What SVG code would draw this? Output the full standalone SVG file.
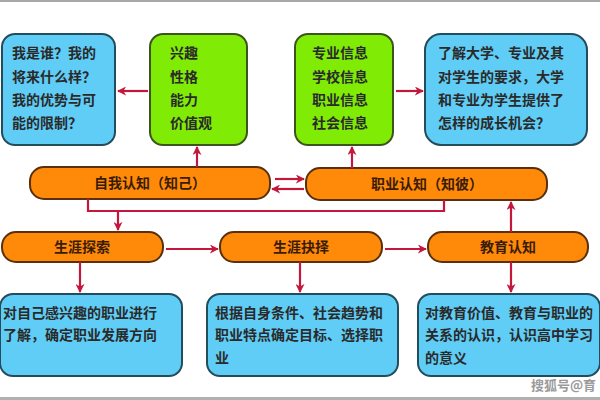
<svg xmlns="http://www.w3.org/2000/svg" width="600" height="400" viewBox="0 0 600 400">
<defs>
<marker id="ah" viewBox="0 0 10 10" refX="9" refY="5" markerWidth="9" markerHeight="9" markerUnits="userSpaceOnUse" orient="auto">
<path d="M0,0 L10,5 L0,10 L3,5 Z" fill="#c4173c"/>
</marker>
<style>
.blue{fill:#60cdf6;stroke:#234c5c;stroke-width:2}
.green{fill:#80ec06;stroke:#3c5420;stroke-width:2}
.orange{fill:#ff8a0a;stroke:#5a2f0c;stroke-width:2}
.t{font-family:"Noto Sans CJK SC","Noto Sans CJK JP",sans-serif;font-size:14px;font-weight:bold;fill:#2a2a2a}
.to{font-family:"Noto Sans CJK SC","Noto Sans CJK JP",sans-serif;font-size:14px;font-weight:bold;fill:#3a1c05;text-anchor:middle}
.c{stroke:#c4173c;stroke-width:2.2;fill:none}
.ca{stroke:#c4173c;stroke-width:2.2;fill:none;marker-end:url(#ah)}
</style>
</defs>
<rect x="0" y="0" width="600" height="400" fill="#ffffff"/>
<rect x="0" y="0" width="600" height="2" fill="#a8a8a8"/>
<rect x="0" y="397" width="600" height="3" fill="#b0b0b0"/>

<g id="who">
<rect class="blue" x="2" y="34" width="113" height="111" rx="13"/>
<text class="t" x="12" y="58">我是谁？我的</text>
<text class="t" x="12" y="82">将来什么样？</text>
<text class="t" x="12" y="105">我的优势与可</text>
<text class="t" x="12" y="128">能的限制？</text>
</g>
<g id="self-traits">
<rect class="green" x="150" y="34" width="97" height="111" rx="13"/>
<text class="t" x="170" y="58">兴趣</text>
<text class="t" x="170" y="82">性格</text>
<text class="t" x="170" y="105">能力</text>
<text class="t" x="170" y="128">价值观</text>
</g>
<g id="info">
<rect class="green" x="295" y="34" width="98" height="111" rx="13"/>
<text class="t" x="312" y="58">专业信息</text>
<text class="t" x="312" y="82">学校信息</text>
<text class="t" x="312" y="105">职业信息</text>
<text class="t" x="312" y="128">社会信息</text>
</g>
<g id="university">
<rect class="blue" x="425" y="34" width="162" height="111" rx="16"/>
<text class="t" x="438" y="58">了解大学、专业及其</text>
<text class="t" x="438" y="82">对学生的要求，大学</text>
<text class="t" x="438" y="105">和专业为学生提供了</text>
<text class="t" x="438" y="128">怎样的成长机会？</text>
</g>
<g id="self-cognition">
<rect class="orange" x="30" y="167" width="240" height="32" rx="14"/>
<text class="to" x="150" y="188">自我认知（知己）</text>
</g>
<g id="career-cognition">
<rect class="orange" x="306" y="168" width="241" height="32" rx="14"/>
<text class="to" x="427" y="189">职业认知（知彼）</text>
</g>
<g id="explore">
<rect class="orange" x="2" y="232" width="161" height="30" rx="14"/>
<text class="to" x="82" y="252">生涯探索</text>
</g>
<g id="choose">
<rect class="orange" x="220" y="232" width="162" height="30" rx="14"/>
<text class="to" x="301" y="252">生涯抉择</text>
</g>
<g id="education">
<rect class="orange" x="428" y="232" width="160" height="30" rx="14"/>
<text class="to" x="508" y="252">教育认知</text>
</g>
<g id="explore-desc">
<rect class="blue" x="0" y="294" width="182" height="82" rx="13"/>
<text class="t" x="3" y="318">对自己感兴趣的职业进行</text>
<text class="t" x="3" y="340">了解，确定职业发展方向</text>
</g>
<g id="choose-desc">
<rect class="blue" x="207" y="294" width="191" height="82" rx="13"/>
<text class="t" x="215" y="318">根据自身条件、社会趋势和</text>
<text class="t" x="215" y="340">职业特点确定目标、选择职</text>
<text class="t" x="215" y="363">业</text>
</g>
<g id="education-desc">
<rect class="blue" x="418" y="294" width="182" height="82" rx="13"/>
<text class="t" x="425" y="318">对教育价值、教育与职业的</text>
<text class="t" x="425" y="340">关系的认识，认识高中学习</text>
<text class="t" x="425" y="363">的意义</text>
</g>

<g id="connectors">
<line class="ca" x1="148" y1="91" x2="118" y2="91"/>
<line class="ca" x1="396" y1="91" x2="423" y2="91"/>
<line class="ca" x1="197" y1="167" x2="197" y2="147"/>
<line class="ca" x1="352" y1="168" x2="352" y2="147"/>
<line class="ca" x1="275" y1="179" x2="304" y2="179"/>
<line class="ca" x1="304" y1="189" x2="272" y2="189"/>
<polyline class="c" points="88,199 88,211 444,211 444,200"/>
<line class="ca" x1="118" y1="211" x2="118" y2="230"/>
<line class="ca" x1="166" y1="249" x2="218" y2="249"/>
<line class="ca" x1="385" y1="249" x2="426" y2="249"/>
<line class="ca" x1="511" y1="232" x2="511" y2="202"/>
<line class="ca" x1="80" y1="262" x2="80" y2="292"/>
<line class="ca" x1="300" y1="262" x2="300" y2="292"/>
<line class="ca" x1="511" y1="262" x2="511" y2="292"/>
</g>
<text x="531" y="390" font-family="Noto Sans CJK SC,sans-serif" font-size="13" font-weight="bold" fill="#9a9a9a">搜狐号@育</text>
</svg>
